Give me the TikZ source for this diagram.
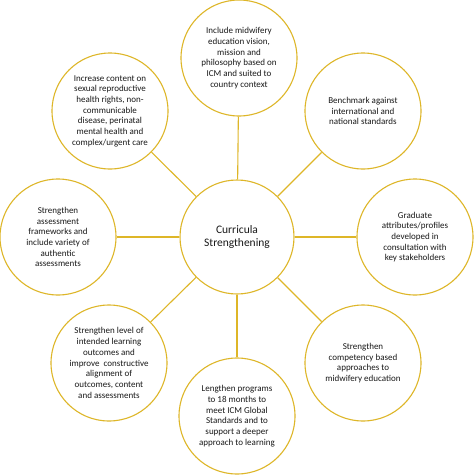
\documentclass[tikz,border=0pt]{standalone}
\usepackage{fontspec}
\setmainfont{Carlito}
\definecolor{gold}{RGB}{222,182,40}
\begin{document}
\begin{tikzpicture}[x=1pt,y=-1pt,
  bubble/.style={circle,draw=gold,line width=1.1pt,fill=white,minimum size=116pt,inner sep=0pt,align=center,font=\fontsize{9}{10.7}\selectfont,text=black!90},
  hub/.style={circle,draw=gold,line width=1.1pt,fill=white,minimum size=114pt,inner sep=0pt,align=center,font=\fontsize{11.5}{12.5}\selectfont,text=black!90},
  link/.style={draw=gold,line width=1.1pt}]
\useasboundingbox (0,0) rectangle (474,475);
\node[hub] (c) at (237,237) {Curricula\\Strengthening};
\node[bubble] (n) at (239,58) {Include midwifery\\education vision,\\mission and\\philosophy based on\\ICM and suited to\\country context};
\node[bubble] (ne) at (363,111) {Benchmark against\\international and\\national standards};
\node[bubble] (e) at (415,237) {Graduate\\attributes/profiles\\developed in\\consultation with\\key stakeholders};
\node[bubble] (se) at (363,363) {Strengthen\\competency based\\approaches to\\midwifery education};
\node[bubble] (s) at (237,416) {Lengthen programs\\to 18 months to\\meet ICM Global\\Standards and to\\support a deeper\\approach to learning};
\node[bubble] (sw) at (109,363) {Strengthen level of\\intended learning\\outcomes and\\improve\ \ constructive\\alignment of\\outcomes, content\\and assessments};
\node[bubble] (w) at (58,237) {Strengthen\\assessment\\frameworks and\\include variety of\\authentic\\assessments};
\node[bubble] (nw) at (110,111) {Increase content on\\sexual reproductive\\health rights, non-\\communicable\\disease, perinatal\\mental health and\\complex/urgent care};
\foreach \t in {n,ne,e,se,s,sw,w,nw}{\path[link] (c) -- (\t);}
\end{tikzpicture}
\end{document}
